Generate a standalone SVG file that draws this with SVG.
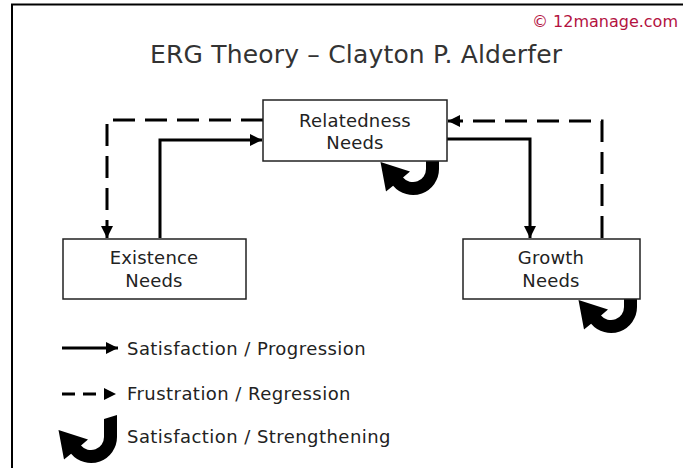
<svg xmlns="http://www.w3.org/2000/svg" width="692" height="468" viewBox="0 0 692 468">
<style>
text{font-family:"DejaVu Sans","Verdana",sans-serif;}
.box{fill:#fff;stroke:#222;stroke-width:1.5;}
.lbl{font-size:18px;fill:#222;text-anchor:middle;letter-spacing:0.2px;}
.leg{font-size:18px;fill:#222;letter-spacing:0.45px;}
.solid{fill:none;stroke:#000;stroke-width:3;}
.dash{fill:none;stroke:#000;stroke-width:3;stroke-dasharray:22 10;}
</style>
<defs>
<marker id="ah" markerUnits="userSpaceOnUse" markerWidth="14" markerHeight="12" refX="12" refY="6" orient="auto">
<path d="M0 0 L12 6 L0 12 Z" fill="#000"/>
</marker>
<path id="curl" d="M49 4 L62 0 L62 22 A26 26 0 0 1 16.1 38.7 L9 44.5 L3.5 15 L33 24.5 L26 30.4 A13 13 0 0 0 49 22 Z" fill="#000"/>
</defs>
<rect width="692" height="468" fill="#fff"/>
<path d="M12 468 V4.5 H683" fill="none" stroke="#000" stroke-width="2"/>
<text x="678" y="27" font-size="16" fill="#b3123f" text-anchor="end">© 12manage.com</text>
<text x="356" y="63" font-size="25" fill="#333" text-anchor="middle" textLength="412">ERG Theory – Clayton P. Alderfer</text>
<g id="connectors">
<path class="dash" d="M263 120 H107 V238" marker-end="url(#ah)"/>
<path class="solid" d="M160 238 V140 H262" marker-end="url(#ah)"/>
<path class="solid" d="M447 139 H530 V238" marker-end="url(#ah)"/>
<path class="dash" d="M602 238 V121 H448" marker-end="url(#ah)"/>
<use href="#curl" x="377" y="147"/>
<use href="#curl" x="575" y="285"/>
</g>
<g id="relatedness">
<rect class="box" x="263" y="100" width="184" height="61"/>
<text class="lbl" x="355" y="127">Relatedness</text>
<text class="lbl" x="355" y="149">Needs</text>
</g>
<g id="existence">
<rect class="box" x="63" y="239" width="183" height="60"/>
<text class="lbl" x="154" y="264">Existence</text>
<text class="lbl" x="154" y="287">Needs</text>
</g>
<g id="growth">
<rect class="box" x="463" y="239" width="177" height="60"/>
<text class="lbl" x="551" y="264">Growth</text>
<text class="lbl" x="551" y="287">Needs</text>
</g>
<g id="legend">
<path class="solid" d="M62 348 H118" marker-end="url(#ah)"/>
<text class="leg" x="127" y="355">Satisfaction / Progression</text>
<path d="M62 394 H98" fill="none" stroke="#000" stroke-width="3" stroke-dasharray="13 8"/>
<path d="M104 388 L116 394 L104 400 Z" fill="#000"/>
<text class="leg" x="127" y="400">Frustration / Regression</text>
<use href="#curl" x="55" y="415"/>
<text class="leg" x="127" y="443">Satisfaction / Strengthening</text>
</g>
</svg>
